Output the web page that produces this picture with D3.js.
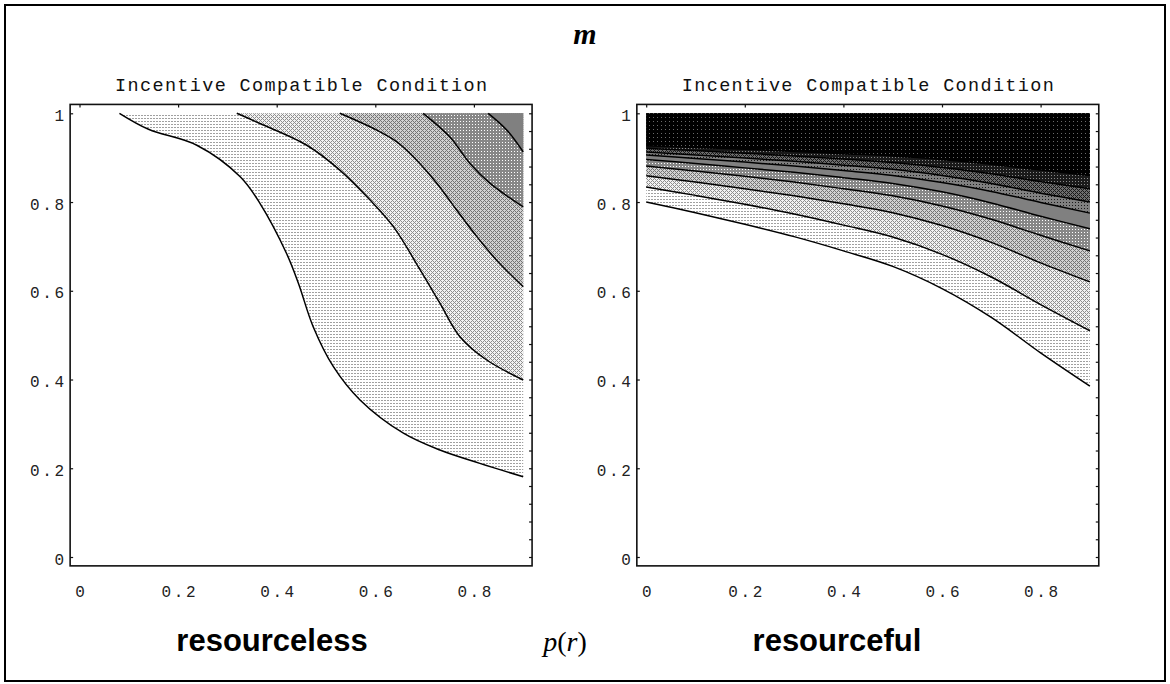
<!DOCTYPE html>
<html>
<head>
<meta charset="utf-8">
<script src="https://cdn.jsdelivr.net/npm/d3@7"></script>
<style>
  body { margin: 0; background: #fff; }
  svg { display: block; }
</style>
</head>
<body>
<svg id="svg_contours" width="1170" height="684"></svg>
<script>
// Incentive compatible condition, two contour panels side by side

/* Data */

const chartTitle = 'm';
const panelTitle = 'Incentive Compatible Condition';
const bottomLabels = ['resourceless', 'resourceful'];

const xTickValues = [0, 0.2, 0.4, 0.6, 0.8];
const xTickLabels = ['0', '0.2', '0.4', '0.6', '0.8'];
const yTickValues = [0, 0.2, 0.4, 0.6, 0.8, 1];
const yTickLabels = ['0', '0.2', '0.4', '0.6', '0.8', '1'];

// left panel (resourceless): contour lines as [x, y], running from top edge to right edge
const leftC1 = [[0.081, 1.0], [0.140, 0.964], [0.238, 0.928], [0.326, 0.857], [0.366, 0.797],
                [0.420, 0.684], [0.444, 0.617], [0.474, 0.519], [0.515, 0.429], [0.569, 0.354],
                [0.657, 0.279], [0.731, 0.241], [0.812, 0.211], [0.900, 0.181]];
const leftC2 = [[0.319, 1.0], [0.366, 0.977], [0.461, 0.928], [0.528, 0.872], [0.589, 0.805],
                [0.637, 0.744], [0.691, 0.647], [0.731, 0.572], [0.772, 0.496], [0.826, 0.444],
                [0.900, 0.399]];
const leftC3 = [[0.528, 1.0], [0.603, 0.962], [0.643, 0.936], [0.677, 0.902], [0.725, 0.842],
                [0.765, 0.782], [0.806, 0.722], [0.846, 0.669], [0.900, 0.609]];
const leftC4 = [[0.697, 1.0], [0.751, 0.947], [0.792, 0.887], [0.833, 0.842], [0.900, 0.789]];
const leftC5 = [[0.829, 1.0], [0.867, 0.962], [0.900, 0.913]];

// right panel (resourceful): contour heights at each x, running left edge to right edge
const rightX  = [0, 0.1, 0.2, 0.3, 0.4, 0.5, 0.6, 0.7, 0.8, 0.9];
const rightC1 = [0.800, 0.776, 0.750, 0.722, 0.690, 0.655, 0.605, 0.540, 0.460, 0.385];
const rightC2 = [0.834, 0.815, 0.795, 0.773, 0.748, 0.721, 0.682, 0.631, 0.569, 0.510];
const rightC3 = [0.859, 0.845, 0.830, 0.814, 0.796, 0.776, 0.747, 0.709, 0.663, 0.620];
const rightC4 = [0.881, 0.870, 0.858, 0.845, 0.830, 0.814, 0.791, 0.761, 0.725, 0.690];
const rightC5 = [0.896, 0.887, 0.877, 0.867, 0.855, 0.842, 0.823, 0.798, 0.768, 0.740];
const rightC6 = [0.906, 0.898, 0.890, 0.881, 0.871, 0.860, 0.844, 0.824, 0.799, 0.775];
const rightC7 = [0.913, 0.906, 0.899, 0.892, 0.883, 0.874, 0.860, 0.842, 0.820, 0.800];
const rightC8 = [0.921, 0.916, 0.910, 0.904, 0.897, 0.889, 0.878, 0.864, 0.846, 0.830];
const rightC9 = [0.927, 0.923, 0.919, 0.914, 0.909, 0.904, 0.896, 0.885, 0.872, 0.860];


class ContourPanel {

    constructor(svg, plotLeft, contours, spansWidth) {

        this.svg = svg;
        this.contours = contours;
        this.spansWidth = spansWidth; // true if contours run from left edge to right edge

        /* Make Scales */

        this.xScale = d3.scaleLinear()
                        .domain([0, 0.9])
                        .range([plotLeft, plotLeft + 443.7]);

        this.yScale = d3.scaleLinear()
                        .domain([0, 1])
                        .range([557, 113.3]);

        // frame is padded a little beyond the data range
        this.frameLeft = this.xScale(-0.019);
        this.frameRight = this.xScale(0.918);
        this.frameTop = this.yScale(1.02);
        this.frameBottom = this.yScale(-0.02);

        this.line = d3.line()
                      .x(d => this.xScale(d[0]))
                      .y(d => this.yScale(d[1]))
                      .curve(d3.curveCatmullRom.alpha(0.5));
    }

    draw() {
        this.drawRegions();
        this.drawLines();
        this.drawFrame();
        this.drawAxes();
        this.drawTitle();
    }

    drawRegions() {
        let g = this.svg.append('g');

        this.contours.forEach((c, i) => {
            // smooth contour edge, then straight back along the plot edges
            let d = this.line(c)
                  + `L${this.xScale(0.9)},${this.yScale(1)}`;
            if (this.spansWidth) d += `L${this.xScale(0)},${this.yScale(1)}`;
            d += 'Z';

            g.append('path')
             .attr('d', d)
             .attr('fill', `url(#lvl${i + 1})`)
             .attr('stroke', 'none');
        });
    }

    drawLines() {
        let g = this.svg.append('g');

        this.contours.forEach(c => {
            g.append('path')
             .datum(c)
             .attr('fill', 'none')
             .attr('stroke', '#000')
             .attr('stroke-width', 1.5)
             .attr('d', this.line);
        });
    }

    drawFrame() {
        this.svg.append('rect')
            .attr('x', this.frameLeft)
            .attr('y', this.frameTop)
            .attr('width', this.frameRight - this.frameLeft)
            .attr('height', this.frameBottom - this.frameTop)
            .attr('fill', 'none')
            .attr('stroke', '#111')
            .attr('stroke-width', 1.6);
    }

    drawAxes() {
        let labelFont = g => g.attr('font-family', '"Liberation Mono", monospace')
                              .attr('font-size', 16)
                              .attr('letter-spacing', '2.6px')
                              .attr('fill', '#222');

        // left axis, labels
        let yAxis = d3.axisLeft(this.yScale)
                      .tickValues(yTickValues)
                      .tickFormat((d, i) => yTickLabels[i])
                      .tickSizeInner(-3)
                      .tickSizeOuter(0)
                      .tickPadding(3.5);

        let gy = this.svg.append('g')
                    .attr('transform', `translate(${this.frameLeft}, 0)`)
                    .call(yAxis);
        gy.select('.domain').remove();
        gy.selectAll('text').attr('dy', '0.45em').call(labelFont);

        // bottom axis, labels only
        let xAxis = d3.axisBottom(this.xScale)
                      .tickValues(xTickValues)
                      .tickFormat((d, i) => xTickLabels[i])
                      .tickSize(0);

        let gx = this.svg.append('g')
                    .attr('transform', `translate(0, ${this.frameBottom})`)
                    .call(xAxis);
        gx.select('.domain').remove();
        gx.selectAll('text').attr('y', 31.5).attr('dy', 0).attr('dx', 1.3).call(labelFont);

        // top axis, ticks only
        let topAxis = d3.axisTop(this.xScale)
                        .tickValues(xTickValues)
                        .tickFormat('')
                        .tickSizeInner(-3)
                        .tickSizeOuter(0);

        let gt = this.svg.append('g')
                    .attr('transform', `translate(0, ${this.frameTop})`)
                    .call(topAxis);
        gt.select('.domain').remove();

        // right axis, major and minor ticks
        let rightAxis = d3.axisRight(this.yScale)
                          .tickValues(d3.range(0, 1.0001, 0.04))
                          .tickFormat('')
                          .tickSizeInner(-3)
                          .tickSizeOuter(0);

        let gr = this.svg.append('g')
                    .attr('transform', `translate(${this.frameRight}, 0)`)
                    .call(rightAxis);
        gr.select('.domain').remove();

        this.svg.selectAll('.tick line').attr('stroke', '#111').attr('stroke-width', 1.2);
    }

    drawTitle() {
        this.svg.append('text')
            .attr('x', (this.frameLeft + this.frameRight) / 2)
            .attr('y', 91)
            .attr('text-anchor', 'middle')
            .attr('font-family', '"Liberation Mono", monospace')
            .attr('font-size', 18.5)
            .attr('textLength', 372)
            .attr('lengthAdjust', 'spacing')
            .attr('fill', '#111')
            .text(panelTitle);
    }
}


/* Dither-like fill patterns, one per contour level */

function addPatterns(svg) {
    let defs = svg.append('defs');
    let X = [[0, 0], [1, 1], [2, 2], [3, 3], [1, 3], [3, 1]];

    let levels = [
        { size: 3, bg: '#ffffff', dots: [[1, 1], [0, 1]], dot: '#a0a0a0' },
        { size: 4, bg: '#f2f2f2', dots: X, dot: '#8e8e8e' },
        { size: 4, bg: '#d2d2d2', dots: X, dot: '#747474' },
        { size: 3, bg: '#878787', dots: [[1, 1]], dot: '#ffffff' },
        { size: 3, bg: '#808080', dots: [], dot: '#808080' },
        { size: 3, bg: '#808080', dots: [[1, 1]], dot: '#1a1a1a' },
        { size: 4, bg: '#6e6e6e', dots: X, dot: '#1a1a1a' },
        { size: 3, bg: '#1a1a1a', dots: [[1, 1]], dot: '#8a8a8a' },
        { size: 4, bg: '#000000', dots: [[1, 1]], dot: '#6a6a6a' },
        { size: 3, bg: '#000000', dots: [], dot: '#000000' }
    ];

    levels.forEach((lv, i) => {
        let p = defs.append('pattern')
                    .attr('id', `lvl${i + 1}`)
                    .attr('patternUnits', 'userSpaceOnUse')
                    .attr('width', lv.size)
                    .attr('height', lv.size);

        p.append('rect')
         .attr('width', lv.size)
         .attr('height', lv.size)
         .attr('fill', lv.bg);

        p.selectAll('rect.dot')
         .data(lv.dots)
         .join('rect')
         .attr('class', 'dot')
         .attr('x', d => d[0])
         .attr('y', d => d[1])
         .attr('width', 1)
         .attr('height', 1)
         .attr('fill', lv.dot)
         .attr('shape-rendering', 'crispEdges');
    });
}


/* Build */

let svg = d3.select('#svg_contours');

svg.append('rect')
   .attr('width', 1170)
   .attr('height', 684)
   .attr('fill', '#fff');

addPatterns(svg);

// outer border
svg.append('rect')
   .attr('x', 5)
   .attr('y', 5)
   .attr('width', 1160)
   .attr('height', 676)
   .attr('fill', 'none')
   .attr('stroke', '#000')
   .attr('stroke-width', 2);

// main title
svg.append('text')
   .attr('x', 585)
   .attr('y', 44)
   .attr('text-anchor', 'middle')
   .attr('font-family', '"Liberation Serif", "Times New Roman", serif')
   .attr('font-weight', 'bold')
   .attr('font-style', 'italic')
   .attr('font-size', 30)
   .text(chartTitle);

let leftContours = [leftC1, leftC2, leftC3, leftC4, leftC5];
let rightContours = [rightC1, rightC2, rightC3, rightC4, rightC5, rightC6, rightC7, rightC8, rightC9]
                    .map(ys => ys.map((y, i) => [rightX[i], y]));

let leftPanel = new ContourPanel(svg, 79.5, leftContours, false);
leftPanel.draw();

let rightPanel = new ContourPanel(svg, 646.2, rightContours, true);
rightPanel.draw();

// bottom labels
svg.append('text')
   .attr('x', 272)
   .attr('y', 651)
   .attr('text-anchor', 'middle')
   .attr('font-family', '"Liberation Sans", Arial, sans-serif')
   .attr('font-weight', 'bold')
   .attr('font-size', 31)
   .text(bottomLabels[0]);

svg.append('text')
   .attr('x', 837)
   .attr('y', 651)
   .attr('text-anchor', 'middle')
   .attr('font-family', '"Liberation Sans", Arial, sans-serif')
   .attr('font-weight', 'bold')
   .attr('font-size', 31)
   .text(bottomLabels[1]);

// p(r) axis label
let pr = svg.append('text')
            .attr('x', 565)
            .attr('y', 651)
            .attr('text-anchor', 'middle')
            .attr('font-family', '"Liberation Serif", "Times New Roman", serif')
            .attr('font-size', 28);
pr.append('tspan').attr('font-style', 'italic').text('p');
pr.append('tspan').text('(');
pr.append('tspan').attr('font-style', 'italic').text('r');
pr.append('tspan').text(')');
</script>
</body>
</html>
